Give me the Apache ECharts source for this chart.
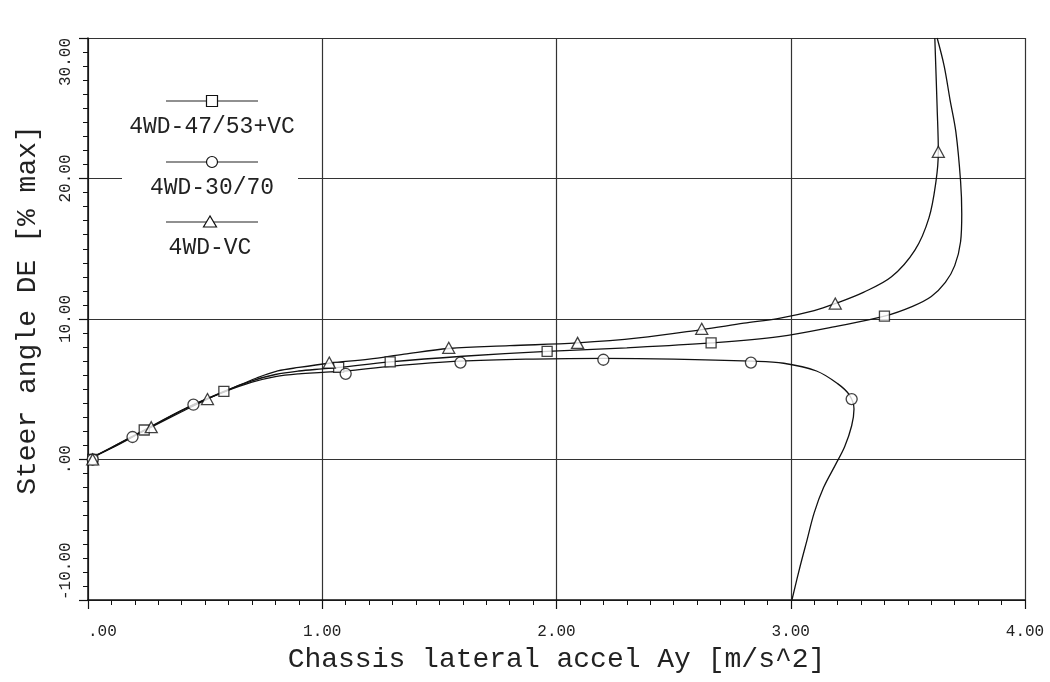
<!DOCTYPE html>
<html>
<head>
<meta charset="utf-8">
<script src="https://cdn.jsdelivr.net/npm/echarts@6/dist/echarts.min.js"></script>
<style>
html,body{margin:0;padding:0;background:#fff;}
#c{width:1050px;height:682px;}
</style>
</head>
<body>
<div id="c"></div>
<script>
// ---- data ----
const seriesNames = ['4WD-47/53+VC', '4WD-30/70', '4WD-VC'];
const xTicks = ['.00', '1.00', '2.00', '3.00', '4.00'];
const yTicks = ['-10.00', '.00', '10.00', '20.00', '30.00'];

const curveSquare = [[0,0],[0.1,0.85],[0.24,2.1],[0.4,3.5],[0.58,4.85],[0.7,5.6],[0.8,6.05],[0.9,6.3],[1.0,6.45],[1.07,6.55],[1.29,6.95],[1.6,7.35],[1.96,7.7],[2.3,7.95],[2.66,8.3],[2.95,8.75],[3.2,9.5],[3.4,10.2],[3.52,10.9],[3.6,11.6],[3.66,12.6],[3.7,13.8],[3.725,15.5],[3.73,17.5],[3.725,19.8],[3.705,23.3],[3.68,25.6],[3.655,28],[3.625,30]];
const curveCircle = [[0,0],[0.1,0.8],[0.19,1.6],[0.3,2.6],[0.45,3.9],[0.58,4.8],[0.7,5.5],[0.8,5.9],[0.9,6.1],[1.0,6.2],[1.1,6.3],[1.3,6.65],[1.59,7.0],[1.9,7.15],[2.2,7.2],[2.5,7.15],[2.83,7.0],[2.97,6.85],[3.11,6.3],[3.2,5.4],[3.25,4.6],[3.27,3.6],[3.26,2.4],[3.23,0.9],[3.19,-0.4],[3.14,-2.0],[3.1,-3.8],[3.07,-5.7],[3.04,-7.6],[3.005,-10]];
const curveTriangle = [[0,0],[0.1,0.85],[0.27,2.3],[0.4,3.4],[0.51,4.3],[0.62,5.1],[0.72,5.8],[0.81,6.3],[0.9,6.55],[1.03,6.85],[1.2,7.15],[1.35,7.5],[1.54,7.9],[1.8,8.1],[2.09,8.3],[2.35,8.65],[2.62,9.25],[2.8,9.7],[2.95,10.05],[3.1,10.6],[3.19,11.1],[3.31,11.9],[3.43,13.0],[3.53,14.9],[3.59,17.2],[3.62,19.8],[3.63,21.9],[3.625,25],[3.615,30]];

const markSquare = [[0.02,0],[0.24,2.1],[0.58,4.85],[1.07,6.55],[1.29,6.95],[1.96,7.7],[2.66,8.3],[3.4,10.2]];
const markCircle = [[0.02,0],[0.19,1.6],[0.45,3.9],[1.1,6.1],[1.59,6.9],[2.2,7.1],[2.83,6.9],[3.26,4.3]];
const markTriangle = [[0.02,0],[0.27,2.3],[0.51,4.3],[1.03,6.9],[1.54,7.95],[2.09,8.3],[2.62,9.3],[3.19,11.1],[3.63,21.9]];

// ---- chart ----
const FONT = '"Liberation Mono", "DejaVu Sans Mono", monospace';
const chart = echarts.init(document.getElementById('c'), null, {renderer: 'canvas'});

function fmt(arr, min, step) {
  return function (v) {
    const i = Math.round((v - min) / step);
    return arr[i] !== undefined ? arr[i] : '';
  };
}

const symbols = ['rect', 'circle', 'triangle'];
const curves = [curveSquare, curveCircle, curveTriangle];
const marks = [markSquare, markCircle, markTriangle];

const series = [];
curves.forEach((c, i) => {
  series.push({
    name: seriesNames[i], type: 'line', data: c, smooth: 0.35, symbol: 'none',
    lineStyle: {color: '#111', width: 1.3}, z: 3
  });
});
marks.forEach((m, i) => {
  series.push({
    name: seriesNames[i] + ' marks', type: 'scatter', data: m, symbol: symbols[i],
    symbolSize: i === 1 ? 11 : (i === 2 ? [12, 11] : 10),
    itemStyle: {color: '#fff', borderColor: '#111', borderWidth: 1.3}, z: 4
  });
});

// legend (drawn as graphics, icon above centred text)
const legendGraphics = [{
  type: 'rect', shape: {x: 122, y: 84, width: 176, height: 178},
  style: {fill: '#fff'}, z: 10
}];
const legendY = [101, 162, 222];
const legendX = [212, 212, 210];
seriesNames.forEach((n, i) => {
  const y = legendY[i], cx = legendX[i];
  legendGraphics.push({type: 'line', shape: {x1: 166, y1: y, x2: 258, y2: y},
    style: {stroke: '#222', lineWidth: 1.2}, z: 11});
  let shape;
  if (i === 0) shape = {type: 'rect', shape: {x: cx - 5.5, y: y - 5.5, width: 11, height: 11}};
  else if (i === 1) shape = {type: 'circle', shape: {cx: cx, cy: y, r: 5.5}};
  else shape = {type: 'polygon', shape: {points: [[cx, y - 6], [cx - 6.5, y + 5], [cx + 6.5, y + 5]]}};
  shape.style = {fill: '#fff', stroke: '#111', lineWidth: 1.2};
  shape.z = 12;
  legendGraphics.push(shape);
  legendGraphics.push({type: 'text', x: cx, y: y + 26, z: 12,
    style: {text: n, font: '23px ' + FONT, fill: '#222', align: 'center', verticalAlign: 'middle'}});
});

chart.setOption({
  animation: false,
  backgroundColor: '#fff',
  grid: {left: 88, top: 38, right: 25, bottom: 82, show: false},
  xAxis: {
    type: 'value', min: 0, max: 4, interval: 1,
    name: 'Chassis lateral accel Ay [m/s^2]', nameLocation: 'middle', nameGap: 46,
    nameTextStyle: {fontFamily: FONT, fontSize: 28, color: '#222'},
    axisLine: {show: true, onZero: false, lineStyle: {color: '#111', width: 1.5}},
    axisTick: {show: true, length: 9, lineStyle: {color: '#111', width: 1.2}},
    minorTick: {show: true, splitNumber: 10, length: 5, lineStyle: {color: '#111', width: 1}},
    splitLine: {show: true, lineStyle: {color: '#333', width: 1.2}},
    axisLabel: {formatter: fmt(xTicks, 0, 1), fontFamily: FONT, fontSize: 16, color: '#222', margin: 24,
      alignMinLabel: 'left'}
  },
  yAxis: {
    type: 'value', min: -10, max: 30, interval: 10,
    name: 'Steer angle DE [% max]', nameLocation: 'middle', nameGap: 46,
    nameTextStyle: {fontFamily: FONT, fontSize: 28, color: '#222', padding: [0, 0, 0, 18]},
    axisLine: {show: true, onZero: false, lineStyle: {color: '#111', width: 1.5}},
    axisTick: {show: true, length: 9, lineStyle: {color: '#111', width: 1.2}},
    minorTick: {show: true, splitNumber: 10, length: 5, lineStyle: {color: '#111', width: 1}},
    splitLine: {show: true, lineStyle: {color: '#333', width: 1.2}},
    axisLabel: {formatter: fmt(yTicks, -10, 10), rotate: 90, fontFamily: FONT, fontSize: 16, color: '#222', margin: 14,
      alignMinLabel: 'left', alignMaxLabel: 'right'}
  },
  graphic: legendGraphics,
  series: series
});
</script>
</body>
</html>
